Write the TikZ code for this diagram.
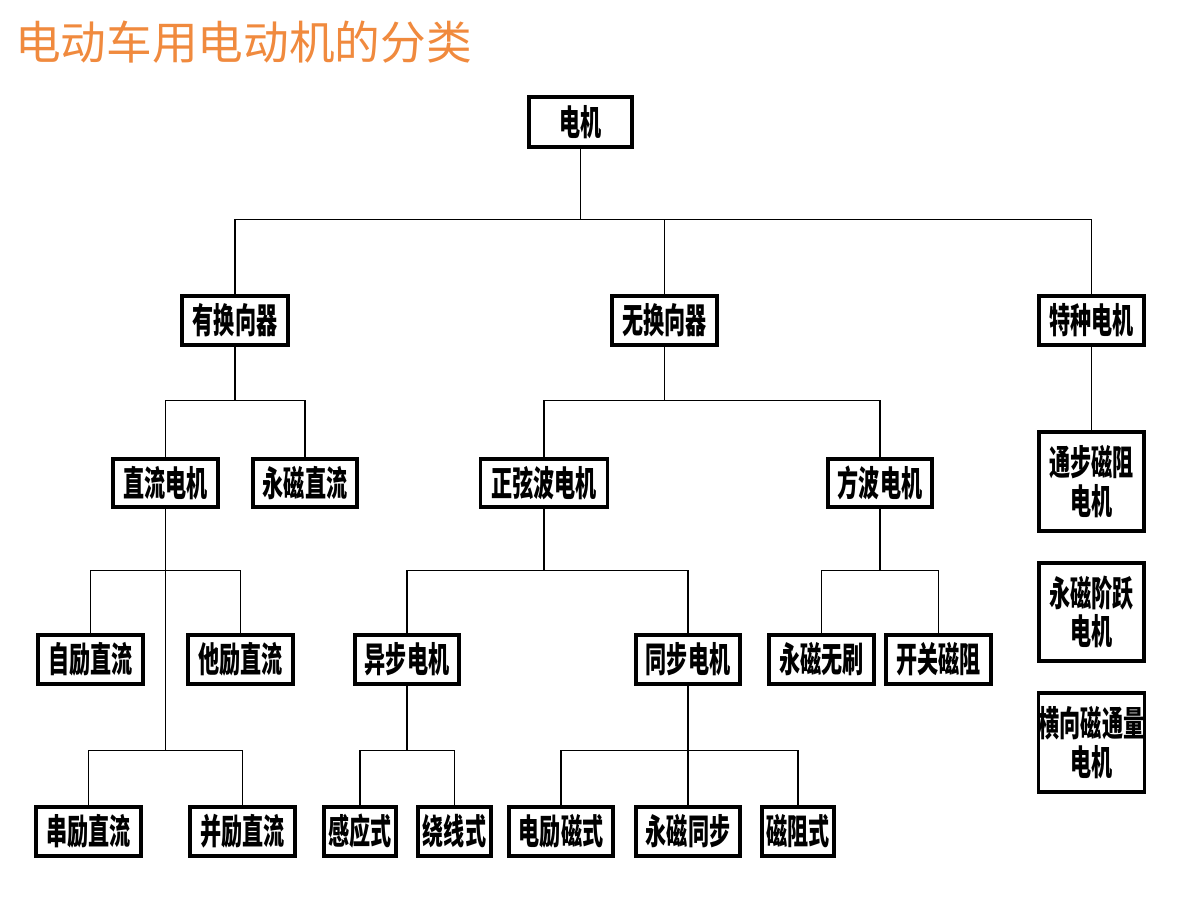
\documentclass[tikz,border=0pt]{standalone}
\usepackage{fontspec}
\usepackage{xcolor}
\newfontfamily\titlefont{Noto Sans CJK SC}
\newfontfamily\boxfont{Noto Sans CJK SC}[FakeStretch=0.6]
\definecolor{titleorange}{RGB}{240,138,62}
\tikzset{
    unit/.style={
        draw,
        line width=1.8pt,
        inner sep=0mm,
        align=center,
        font=\boxfont\bfseries\fontsize{20}{22}\selectfont
    },
    link/.style={line width=0.8pt}
}
\newcommand{\motor}[6] {
    \node[unit,minimum width={#4*0.02cm},minimum height={#5*0.02cm}] (#1) at ({#2}, {#3}) {#6};
}

\begin{document}
\begin{tikzpicture}[x={(0.02cm,0cm)},y={(0cm,-0.02cm)}]
        \useasboundingbox (0,0) rectangle (1200,900);
        \node[anchor=west,text=titleorange,font=\titlefont\fontsize{26}{30}\selectfont] (title) at (9,42) {电动车用电动机的分类};
        % top levels
        \motor{dj}{580.5}{122}{103}{50}{电机}
        \motor{yh}{235}{320.5}{106}{49}{有换向器}
        \motor{wh}{664.5}{320.5}{105}{49}{无换向器}
        \motor{tz}{1091.5}{320.5}{105}{49}{特种电机}
        \motor{zl}{165.5}{483}{105}{48}{直流电机}
        \motor{yc}{305}{483}{104}{48}{永磁直流}
        \motor{zx}{544}{483}{127}{48}{正弦波电机}
        \motor{fb}{880}{483}{104}{48}{方波电机}
        % fourth row
        \motor{zlli}{90.5}{659.5}{105}{49}{自励直流}
        \motor{tl}{240.5}{659.5}{105}{49}{他励直流}
        \motor{yb}{407}{659.5}{104}{49}{异步电机}
        \motor{tb}{688}{659.5}{104}{49}{同步电机}
        \motor{ws}{821.5}{659.5}{105}{49}{永磁无刷}
        \motor{kg}{938.5}{659.5}{105}{49}{开关磁阻}
        % bottom row
        \motor{cl}{88.5}{831.5}{105}{49}{串励直流}
        \motor{bl}{242.5}{831.5}{105}{49}{并励直流}
        \motor{gy}{360}{831.5}{72}{49}{感应式}
        \motor{rx}{454.5}{831.5}{73}{49}{绕线式}
        \motor{dc}{561}{831.5}{104}{49}{电励磁式}
        \motor{yt}{688}{831.5}{104}{49}{永磁同步}
        \motor{cz}{798}{831.5}{72}{49}{磁阻式}
        % special motors
        \motor{bj}{1091.5}{481.5}{105}{99}{通步磁阻\\电机}
        \motor{jy}{1091.5}{612}{105}{98}{永磁阶跃\\电机}
        \motor{hx}{1091.5}{742.5}{105}{99}{横向磁通量\\电机}

        % connectors
        \draw[link] (dj.south) -- ++(0,71) coordinate (b0);
        \draw[link] (b0) -| (yh.north);
        \draw[link] (b0) -| (wh.north);
        \draw[link] (b0) -| (tz.north);
        \draw[link] (yh.south) -- ++(0,54) coordinate (b1);
        \draw[link] (b1) -| (zl.north);
        \draw[link] (b1) -| (yc.north);
        \draw[link] (wh.south) -- ++(0,54) coordinate (b2);
        \draw[link] (b2) -| (zx.north);
        \draw[link] (b2) -| (fb.north);
        \draw[link] (zl.south) -- ++(0,62) coordinate (b3);
        \draw[link] (b3) -| (zlli.north);
        \draw[link] (b3) -| (tl.north);
        \draw[link] (b3) -- ++(0,180) coordinate (b4);
        \draw[link] (b4) -| (cl.north);
        \draw[link] (b4) -| (bl.north);
        \draw[link] (zx.south) -- ++(0,62) coordinate (b5);
        \draw[link] (b5) -| (yb.north);
        \draw[link] (b5) -| (tb.north);
        \draw[link] (fb.south) -- ++(0,62) coordinate (b6);
        \draw[link] (b6) -| (ws.north);
        \draw[link] (b6) -| (kg.north);
        \draw[link] (yb.south) -- ++(0,65) coordinate (b7);
        \draw[link] (b7) -| (gy.north);
        \draw[link] (b7) -| (rx.north);
        \draw[link] (tb.south) -- ++(0,65) coordinate (b8);
        \draw[link] (b8) -| (dc.north);
        \draw[link] (b8) -- (yt.north);
        \draw[link] (b8) -| (cz.north);
        \draw[link] (tz.south) -- (bj.north);
    \end{tikzpicture}
\end{document}
